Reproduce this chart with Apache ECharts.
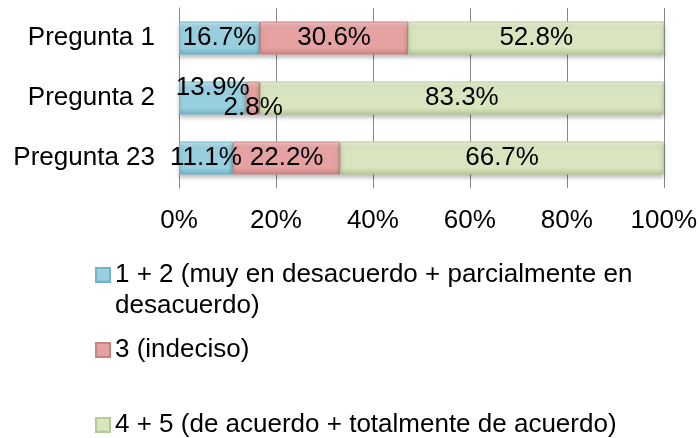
<!DOCTYPE html>
<html>
<head>
<meta charset="utf-8">
<script src="https://cdn.jsdelivr.net/npm/echarts@6/dist/echarts.min.js"></script>
<style>
  html, body { margin: 0; padding: 0; background: #fff; }
  #chart { width: 700px; height: 438px; }
</style>
</head>
<body>
<div id="chart"></div>
<script>
// categorias y valores (porcentaje)
const categories = ['Pregunta 1', 'Pregunta 2', 'Pregunta 23']
const seriesNames = [
  '1 + 2 (muy en desacuerdo + parcialmente en desacuerdo)',
  '3 (indeciso)',
  '4 + 5 (de acuerdo + totalmente de acuerdo)',
]
const desacuerdo = [16.7, 13.9, 11.1]
const indeciso = [30.6, 2.8, 22.2]
const acuerdo = [52.8, 83.3, 66.7]
const tickLabels = ['0%', '20%', '40%', '60%', '80%', '100%']

const FONT = '"Liberation Sans", Arial, sans-serif'
const FS = 26
const LH = 31

const colors = [
  ['#c8e8f1', '#97cfde', '#72b4c7'],
  ['#f3c8c8', '#e6a2a2', '#c98383'],
  ['#eef5dd', '#d8e5bf', '#b7c996'],
]

const grad = (c) => new echarts.graphic.LinearGradient(0, 0, 0, 1, [
  { offset: 0, color: c[0] },
  { offset: 0.2, color: c[1] },
  { offset: 0.8, color: c[1] },
  { offset: 1, color: c[2] },
])

// desplazamientos de etiquetas para Pregunta 2 (se solapan en el original)
const labelOffsets = [
  [null, [0, -10], null],
  [null, [0, 10], null],
  [null, null, null],
]

const makeSeries = (name, values, idx) => ({
  name,
  type: 'bar',
  stack: 'total',
  barWidth: '55%',
  data: values.map((v, i) => {
    const off = labelOffsets[idx][i]
    return off ? { value: v, label: { offset: off } } : v
  }),
  itemStyle: {
    color: grad(colors[idx]),
    borderColor: colors[idx][2],
    borderWidth: 1,
    shadowColor: 'rgba(0,0,0,0.25)',
    shadowBlur: 4,
    shadowOffsetY: 3,
  },
  label: {
    show: true,
    position: 'inside',
    formatter: (p) => p.value.toFixed(1) + '%',
    color: '#000',
    fontFamily: FONT,
    fontSize: FS,
  },
})

// la primera entrada ocupa dos lineas; una linea vacia arriba deja el icono en la primera
const legendTops = [275 - LH * 1.5, 350 - LH / 2, 425 - LH / 2]
const legends = seriesNames.map((n, i) => ({
  data: [n],
  orient: 'vertical',
  left: 95,
  top: legendTops[i],
  padding: 0,
  itemWidth: 14,
  itemHeight: 14,
  itemGap: 0,
  icon: 'rect',
  selectedMode: false,
  formatter: (name) => i === 0
    ? ' \n' + name.replace(' parcialmente en desacuerdo)', ' parcialmente en\ndesacuerdo)')
    : name,
  textStyle: {
    color: '#000',
    fontFamily: FONT,
    fontSize: FS,
    lineHeight: LH,
  },
}))

const chart = echarts.init(document.getElementById('chart'))
chart.setOption({
  animation: false,
  color: colors.map((c) => c[1]),
  grid: { left: 179, right: 34, top: 8, bottom: 250, containLabel: false },
  legend: legends,
  xAxis: {
    type: 'value',
    min: 0,
    max: 100,
    interval: 20,
    axisLine: { show: false },
    axisTick: { show: false },
    splitLine: { show: true, lineStyle: { color: '#868686', width: 1 } },
    axisLabel: {
      margin: 20,
      color: '#000',
      fontFamily: FONT,
      fontSize: FS,
      formatter: (v) => tickLabels[v / 20],
    },
  },
  yAxis: {
    type: 'category',
    data: categories,
    inverse: true,
    axisLine: { show: true, lineStyle: { color: '#868686' } },
    axisTick: { show: false },
    axisLabel: { margin: 24, color: '#000', fontFamily: FONT, fontSize: FS },
  },
  series: [
    makeSeries(seriesNames[0], desacuerdo, 0),
    makeSeries(seriesNames[1], indeciso, 1),
    makeSeries(seriesNames[2], acuerdo, 2),
  ],
})
</script>
</body>
</html>
